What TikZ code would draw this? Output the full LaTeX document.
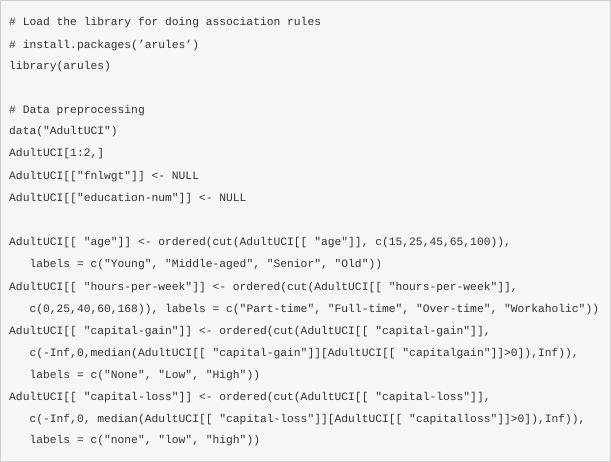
\documentclass[tikz,border=0pt]{standalone}
\usepackage{fontspec}
\newfontfamily\code{Liberation Mono}
\definecolor{bg}{HTML}{F6F6F6}
\definecolor{bd}{HTML}{CFCFCF}
\definecolor{tx}{HTML}{333333}
\begin{document}
\begin{tikzpicture}[x=1pt,y=-1pt,
  ln/.style={anchor=base west,inner sep=0pt,text=tx,font=\code\fontsize{11.3}{13}\selectfont}]
\useasboundingbox (0,0) rectangle (611,462);
\draw[bd,fill=bg] (0.5,0.5) rectangle (610.5,461.5);
\node[ln] (l1) at (9,26) {\# Load the library for doing association rules};
\node[ln] (l2) at (9,49) {\# install.packages(’arules’)};
\node[ln] (l3) at (9,70) {library(arules)};
\node[ln] (l4) at (9,114) {\# Data preprocessing};
\node[ln] (l5) at (9,135) {data("AdultUCI")};
\node[ln] (l6) at (9,157) {AdultUCI[1:2,]};
\node[ln] (l7) at (9,180) {AdultUCI[["fnlwgt"]] <- NULL};
\node[ln] (l8) at (9,202) {AdultUCI[["education-num"]] <- NULL};
\node[ln] (l9) at (9,246) {AdultUCI[[ "age"]] <- ordered(cut(AdultUCI[[ "age"]], c(15,25,45,65,100)),};
\node[ln] (l10) at (9,268) {\ \ \ labels = c("Young", "Middle-aged", "Senior", "Old"))};
\node[ln] (l11) at (9,291) {AdultUCI[[ "hours-per-week"]] <- ordered(cut(AdultUCI[[ "hours-per-week"]],};
\node[ln] (l12) at (9,313) {\ \ \ c(0,25,40,60,168)), labels = c("Part-time", "Full-time", "Over-time", "Workaholic"))};
\node[ln] (l13) at (9,335) {AdultUCI[[ "capital-gain"]] <- ordered(cut(AdultUCI[[ "capital-gain"]],};
\node[ln] (l14) at (9,357) {\ \ \ c(-Inf,0,median(AdultUCI[[ "capital-gain"]][AdultUCI[[ "capitalgain"]]>0]),Inf)),};
\node[ln] (l15) at (9,379) {\ \ \ labels = c("None", "Low", "High"))};
\node[ln] (l16) at (9,401) {AdultUCI[[ "capital-loss"]] <- ordered(cut(AdultUCI[[ "capital-loss"]],};
\node[ln] (l17) at (9,423) {\ \ \ c(-Inf,0, median(AdultUCI[[ "capital-loss"]][AdultUCI[[ "capitalloss"]]>0]),Inf)),};
\node[ln] (l18) at (9,444) {\ \ \ labels = c("none", "low", "high"))};
\end{tikzpicture}
\end{document}
